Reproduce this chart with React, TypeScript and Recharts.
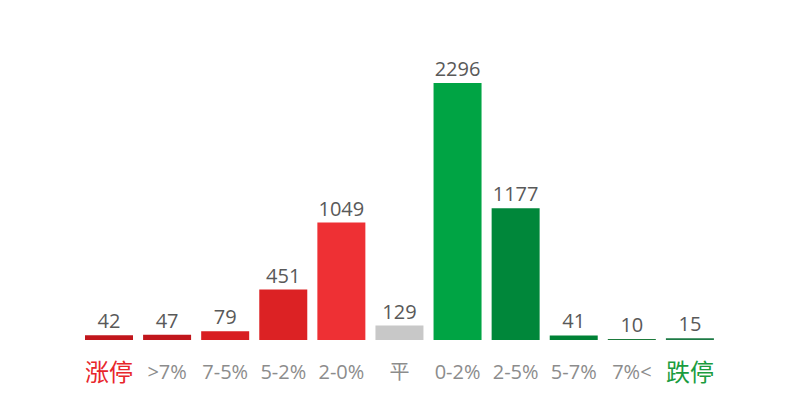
import { BarChart, Bar, XAxis, YAxis, Cell, LabelList } from "recharts";

const categories = ["涨停", ">7%", "7-5%", "5-2%", "2-0%", "平", "0-2%", "2-5%", "5-7%", "7%<", "跌停"];
const counts = [42, 47, 79, 451, 1049, 129, 2296, 1177, 41, 10, 15];
const barColors = [
  "#c1161c", "#c1161c", "#d81e22", "#dc2224", "#ee3034", "#c8c8c8",
  "#00a444", "#00873a", "#008236", "#1d7a3c", "#1d7a45",
];

const data = categories.map((name, i) => ({ name, value: counts[i] }));

const FONT = '"Open Sans", "Noto Sans CJK SC", sans-serif';

function Tick(props: any) {
  const { x, y, payload, index } = props;
  const first = index === 0;
  const last = index === categories.length - 1;
  const special = first || last;
  return (
    <text
      x={x}
      y={y + 26}
      textAnchor="middle"
      fontFamily={special ? '"Noto Sans CJK SC", sans-serif' : FONT}
      fontSize={special ? 24 : 20}
      fill={first ? "#e8262b" : last ? "#1a9c3e" : "#8c8c8c"}
      dominantBaseline="middle"
    >
      {payload.value}
    </text>
  );
}

export default function App() {
  return (
    <div style={{ position: "fixed", left: 0, top: 0, background: "#fff" }}>
      <BarChart
        width={800}
        height={400}
        data={data}
        margin={{ top: 83, right: 81, left: 80, bottom: 0 }}
      >
        <XAxis
          dataKey="name"
          height={60}
          axisLine={false}
          tickLine={false}
          interval={0}
          tick={<Tick />}
        />
        <YAxis hide domain={[0, 2296]} />
        <Bar dataKey="value" barSize={48} isAnimationActive={false}>
          {data.map((d, i) => (
            <Cell key={d.name} fill={barColors[i]} />
          ))}
          <LabelList
            dataKey="value"
            position="top"
            offset={7}
            fill="#595959"
            fontSize={20}
            fontFamily={FONT}
          />
        </Bar>
      </BarChart>
    </div>
  );
}
